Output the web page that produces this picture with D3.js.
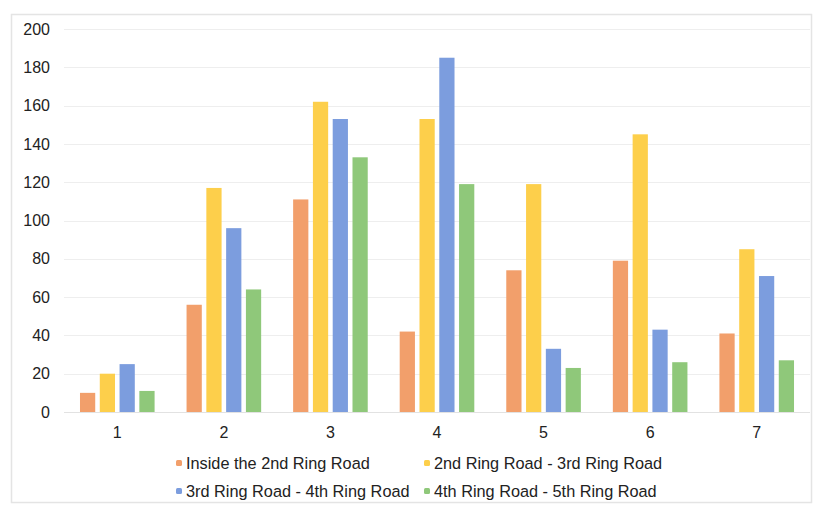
<!DOCTYPE html>
<html>
<head>
<meta charset="utf-8">
<script src="https://cdn.jsdelivr.net/npm/d3@7"></script>
<style>
  html, body { margin: 0; padding: 0; background: #fff; }
  svg { display: block; font-family: "Liberation Sans", Arial, Helvetica, sans-serif; }
</style>
</head>
<body>
<svg id="chart" width="817" height="507"></svg>
<script>
// Categories along the x axis
const categories = ["1", "2", "3", "4", "5", "6", "7"];

// Series names (legend order)
const seriesNames = [
  "Inside the 2nd Ring Road",
  "2nd Ring Road - 3rd Ring Road",
  "3rd Ring Road - 4th Ring Road",
  "4th Ring Road - 5th Ring Road"
];

// Values per series, one per category
const insideSecond = [10, 56, 111, 42, 74, 79, 41];
const secondToThird = [20, 117, 162, 153, 119, 145, 85];
const thirdToFourth = [25, 96, 153, 185, 33, 43, 71];
const fourthToFifth = [11, 64, 133, 119, 23, 26, 27];

// Y tick labels
const yTicks = [0, 20, 40, 60, 80, 100, 120, 140, 160, 180, 200];

const seriesValues = [insideSecond, secondToThird, thirdToFourth, fourthToFifth];
const colors = ["#F29F6B", "#FDCF4B", "#7C9DDE", "#8FC87A"];

const svg = d3.select("#chart");

// Light frame around the chart
svg.append("rect")
  .attr("x", 11.5).attr("y", 14.5)
  .attr("width", 800).attr("height", 488)
  .attr("fill", "#fff")
  .attr("stroke", "#e4e4e4")
  .attr("stroke-width", 1.5);

const plot = { left: 64, right: 810, top: 29, bottom: 412 };

const y = d3.scaleLinear().domain([0, 200]).range([plot.bottom, plot.top]);

const x0 = d3.scaleBand()
  .domain(categories)
  .range([plot.left, plot.right])
  .paddingInner(0.3)
  .paddingOuter(0.15);

const x1 = d3.scaleBand()
  .domain(d3.range(seriesNames.length))
  .range([0, x0.bandwidth()])
  .paddingInner(0.23)
  .paddingOuter(0);

// Horizontal gridlines
svg.append("g")
  .selectAll("line")
  .data(yTicks)
  .join("line")
  .attr("x1", plot.left).attr("x2", plot.right)
  .attr("y1", d => Math.round(y(d)) + 0.5)
  .attr("y2", d => Math.round(y(d)) + 0.5)
  .attr("stroke", d => d === 0 ? "#e2e2e2" : "#eeeeee")
  .attr("stroke-width", 1);

// Y axis labels, right-aligned
const yAxis = d3.axisLeft(y).tickValues(yTicks).tickSize(0).tickPadding(0);
const yg = svg.append("g")
  .attr("transform", `translate(${50},0)`)
  .call(yAxis);
yg.select(".domain").remove();
yg.selectAll("text")
  .attr("text-anchor", "end")
  .attr("x", 0)
  .attr("fill", "#222")
  .style("font-size", "16px");

// X axis labels
const xAxis = d3.axisBottom(x0).tickSize(0).tickPadding(0);
const xg = svg.append("g")
  .attr("transform", `translate(0,${plot.bottom + 15})`)
  .call(xAxis);
xg.select(".domain").remove();
xg.selectAll("text")
  .attr("fill", "#222")
  .style("font-size", "16px");

// Grouped bars
const groups = svg.append("g")
  .selectAll("g")
  .data(categories)
  .join("g")
  .attr("transform", d => `translate(${x0(d)},0)`);

groups.selectAll("rect")
  .data((d, i) => seriesValues.map((vals, s) => ({ s, v: vals[i] })))
  .join("rect")
  .attr("x", d => x1(d.s))
  .attr("width", x1.bandwidth())
  .attr("y", d => y(d.v))
  .attr("height", d => y(0) - y(d.v))
  .attr("fill", d => colors[d.s]);

// Legend (two columns, two rows)
const legendPos = [
  { x: 179, y: 463 },
  { x: 427, y: 463 },
  { x: 179, y: 491 },
  { x: 427, y: 491 }
];
const legend = svg.append("g")
  .selectAll("g")
  .data(seriesNames)
  .join("g")
  .attr("transform", (d, i) => `translate(${legendPos[i].x},${legendPos[i].y})`);

legend.append("rect")
  .attr("x", -3).attr("y", -3)
  .attr("width", 6).attr("height", 6)
  .attr("rx", 1.5)
  .attr("fill", (d, i) => colors[i]);

legend.append("text")
  .attr("x", 7)
  .attr("y", 0)
  .attr("dy", "0.35em")
  .attr("fill", "#222")
  .style("font-size", "16.3px")
  .text(d => d);
</script>
</body>
</html>
